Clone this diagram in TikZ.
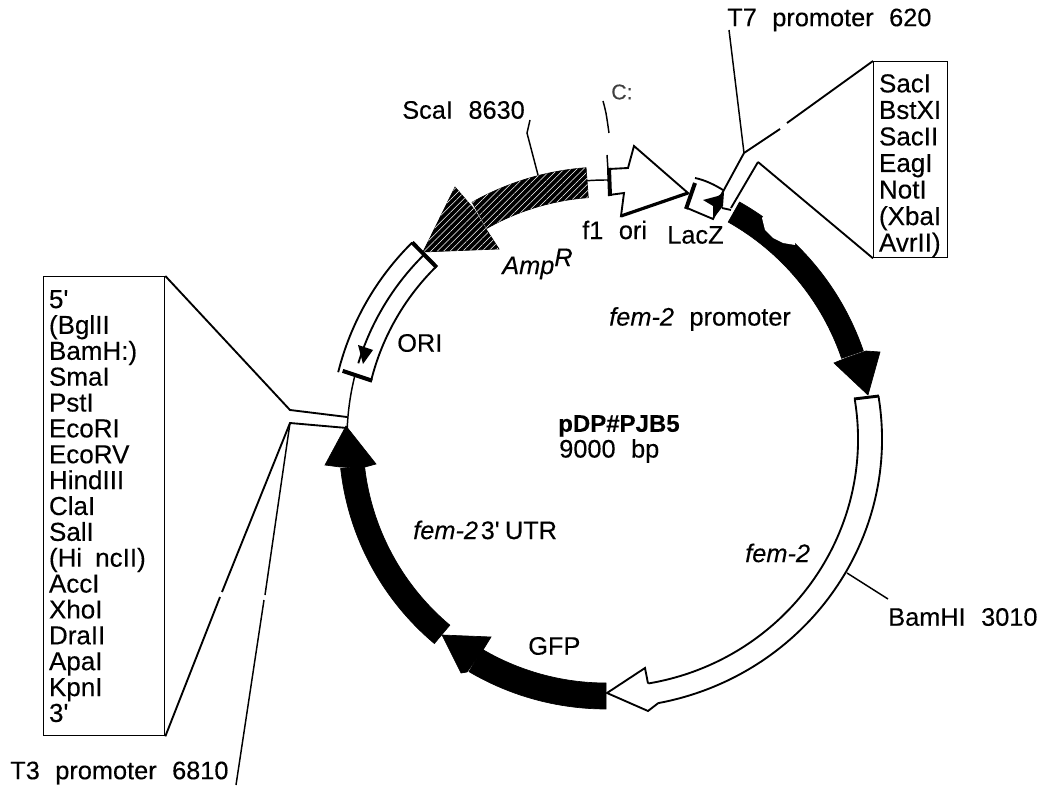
\documentclass[tikz,border=0pt]{standalone}
\usepackage{fontspec}
\setmainfont[WordSpace=2.2,FakeBold=0.25]{Liberation Sans}
\usetikzlibrary{patterns.meta}
\tikzset{
    lbl/.style={anchor=west, inner sep=0pt, font=\fontsize{19}{20}\selectfont},
    listbox/.style={draw, anchor=north west, align=left, inner xsep=4pt, inner ysep=0pt, line width=1pt, font=\fontsize{19.5}{19.4}\selectfont},
    leader/.style={line width=1.1pt},
    outline/.style={line width=1.4pt},
    thickcap/.style={line width=3pt},
    solidband/.style={fill=black, draw=black, line width=.5pt},
    hatched/.style={fill=black, draw=black, line width=.5pt, postaction={pattern={Lines[angle=45,distance=3.4pt,line width=.4pt]}, pattern color=white}},
    openhead/.style={fill=white, draw=black, line width=1.4pt, line join=miter}
}
% arc piece of the ring: style, from, to, inner and outer radius
\newcommand{\band}[5]{\draw[#1] ([shift={(#2:#4)}]ctr) arc[start angle=#2,end angle=#3,radius=#4] -- ([shift={(#3:#5)}]ctr) arc[start angle=#3,end angle=#2,radius=#5] -- cycle;}
\begin{document}
\begin{tikzpicture}[x=0.75pt, y=-0.75pt]
    \useasboundingbox (0,0) rectangle (1043,791);
    \coordinate (ctr) at (606,439);

    % thin parts of the ring
    \draw[leader] ([shift={(265.8:259)}]ctr) arc[start angle=265.8,end angle=271,radius=259];
    \draw[leader] ([shift={(194:259)}]ctr) arc[start angle=194,end angle=181,radius=259];

    % AmpR
    \band{hatched}{265.8}{240.5}{242}{272}
    \draw[hatched] (423,252) -- (455,187) -- (474,209) -- (486,229) -- (499,249) -- cycle;
    \coordinate (scaFoot) at (538,175);
    \coordinate (scaMid) at (527,133);
    \coordinate (scaTop) at (530,120);
    \draw[leader] (scaTop) -- (scaMid) -- (scaFoot);

    % ORI
    \draw[outline] ([shift={(225.4:276)}]ctr) arc[start angle=225.4,end angle=194,radius=276];
    \draw[outline] ([shift={(225.4:242)}]ctr) arc[start angle=225.4,end angle=194,radius=242];
    \draw[outline] ([shift={(225.4:259)}]ctr) arc[start angle=225.4,end angle=197,radius=259];
    \draw[thickcap] ([shift={(225.4:276)}]ctr) -- ([shift={(225.4:241)}]ctr);
    \draw[thickcap] ([shift={(194.5:272)}]ctr) -- ([shift={(194:241)}]ctr);
    \fill (358,345) -- (373,350) -- (363,364) -- cycle;

    % f1 ori
    \draw[openhead] (609,169) -- (628,168) -- (634,146) -- (688,193) -- (621,216) -- (624,193) -- (609,195) -- cycle;
    \draw[thickcap] (609,168) -- (610,196);
    \draw[thickcap, line width=2.4pt] (621,216) -- (688,193);
    \draw[leader] (603,101) .. controls (606,112) .. (609,133);
    \draw[leader] (607,155) -- (608,170);

    % LacZ
    \draw[outline] (695,178) .. controls (705,180) and (715,185) .. (723,190);
    \draw[outline] (687,208) -- (713,219) -- (722,200);
    \draw[thickcap] (695,183) -- (686,209);
    \fill (703,200) -- (718,196) -- (724,192) -- (723,206) -- (713,219) -- (713,206) -- cycle;

    % T7 side of the polylinker
    \coordinate (t7Foot) at (744,153);
    \coordinate (t7Top) at (729,30);
    \coordinate (t7In) at (758,162);
    \draw[leader] (t7Top) -- (t7Foot);
    \draw[outline] (719,199) -- (t7Foot) -- (780,129);
    \draw[outline] (731,208) -- (t7In);
    \draw[outline] (722,208) -- (731,210);

    % fem-2 promoter
    \band{solidband}{-60.6}{-18.9}{249}{272}
    \draw[solidband] (868,395) -- (834,363) -- (846,358) -- (866,351) -- (880,352) -- cycle;
    \fill[white] (762,218) -- (765,230) -- (773,238) -- (783,243) -- (795,245) -- (795,225) -- (770,207) -- cycle;

    % fem-2
    \draw[outline] ([shift={(-9.2:276 and 269)}]ctr) arc[start angle=-9.2,end angle=79.1,x radius=276,y radius=269] coordinate (femOut);
    \draw[outline] ([shift={(-9.2:252 and 248)}]ctr) arc[start angle=-9.2,end angle=80.4,x radius=252,y radius=248] coordinate (femIn);
    \draw[thickcap, line width=2.2pt] (854,399) -- (879,396);
    \draw[openhead] (femOut) -- (648,711) -- (607,693) -- (645,668) -- (femIn);
    \coordinate (bamFoot) at (847,573);
    \coordinate (bamEnd) at (888,599);
    \draw[leader] (bamFoot) -- (bamEnd);

    % GFP
    \band{solidband}{90}{120.5}{244}{270}
    \draw[solidband] (442,635) -- (491,637) -- (483,650) -- (467,672) -- (461,673) -- cycle;

    % fem-2 3' UTR
    \band{solidband}{130}{173.7}{243}{267}
    \draw[solidband] (346,426) -- (325,465) -- (340,467) -- (365,467) -- (376,464) -- cycle;

    % boxes of sites
    \node[listbox, text width=47.5pt, minimum height=196*0.75pt, font=\fontsize{19.5}{19.9}\selectfont] (siteR) at (873,61) {\rule{0pt}{22.5pt}SacI\\BstXI\\SacII\\EagI\\NotI\\(XbaI\\AvrII)};
    \node[listbox, text width=82.75pt, minimum height=459*0.75pt] (siteL) at (43,276) {5\textquotesingle\\(BglII\\BamH:)\\SmaI\\PstI\\EcoRI\\EcoRV\\HindIII\\ClaI\\SalI\\(Hi\enspace ncII)\\AccI\\XhoI\\DraII\\ApaI\\KpnI\\3\textquotesingle};

    % leaders of the boxes
    \coordinate (linkUp) at (290,410);
    \coordinate (linkLow) at (290,423);
    \draw[outline] (787,123) -- (siteR.north west);
    \draw[outline] (t7In) -- (siteR.south west);
    \draw[outline] (siteL.north east) -- (linkUp) -- (347,417);
    \draw[outline] (347,428) -- (linkLow) -- (222,592);
    \draw[outline] (220,597) -- (siteL.south east);
    \draw[leader] (linkLow) -- (265,595);
    \draw[leader] (264,600) -- (236,785);

    % labels
    \node[lbl] (t7Lbl) at (727,20) {T7 promoter 620};
    \node[lbl] (scaLbl) at (402,110) {ScaI 8630};
    \node[lbl, font=\fontsize{16}{17}\selectfont, text=black!75] (garble) at (611,92) {C:};
    \node[lbl] (f1Lbl) at (582,230) {f1 ori};
    \node[lbl] (lacLbl) at (667,235) {LacZ};
    \node[lbl] (ampLbl) at (502,264) {\textit{Amp}\raisebox{6pt}{\textit{R}}};
    \node[lbl] (promLbl) at (609,319) {\textit{fem-2} promoter};
    \node[lbl] (oriLbl) at (397,343) {ORI};
    \node[lbl, font=\fontsize{18}{20}\selectfont] (nameLbl) at (558,426) {\textbf{pDP\#PJB5}};
    \node[lbl] (sizeLbl) at (559,451) {9000 bp};
    \node[lbl] (utrLbl) at (413,530) {\textit{fem-2}\hspace{2pt}3\textquotesingle\hspace{4pt}UTR};
    \node[lbl] (femLbl) at (745,553) {\textit{fem-2}};
    \node[lbl] (bamLbl) at (888,617) {BamHI 3010};
    \node[lbl] (gfpLbl) at (528,646) {GFP};
    \node[lbl] (t3Lbl) at (10,773) {T3 promoter 6810};
\end{tikzpicture}
\end{document}
